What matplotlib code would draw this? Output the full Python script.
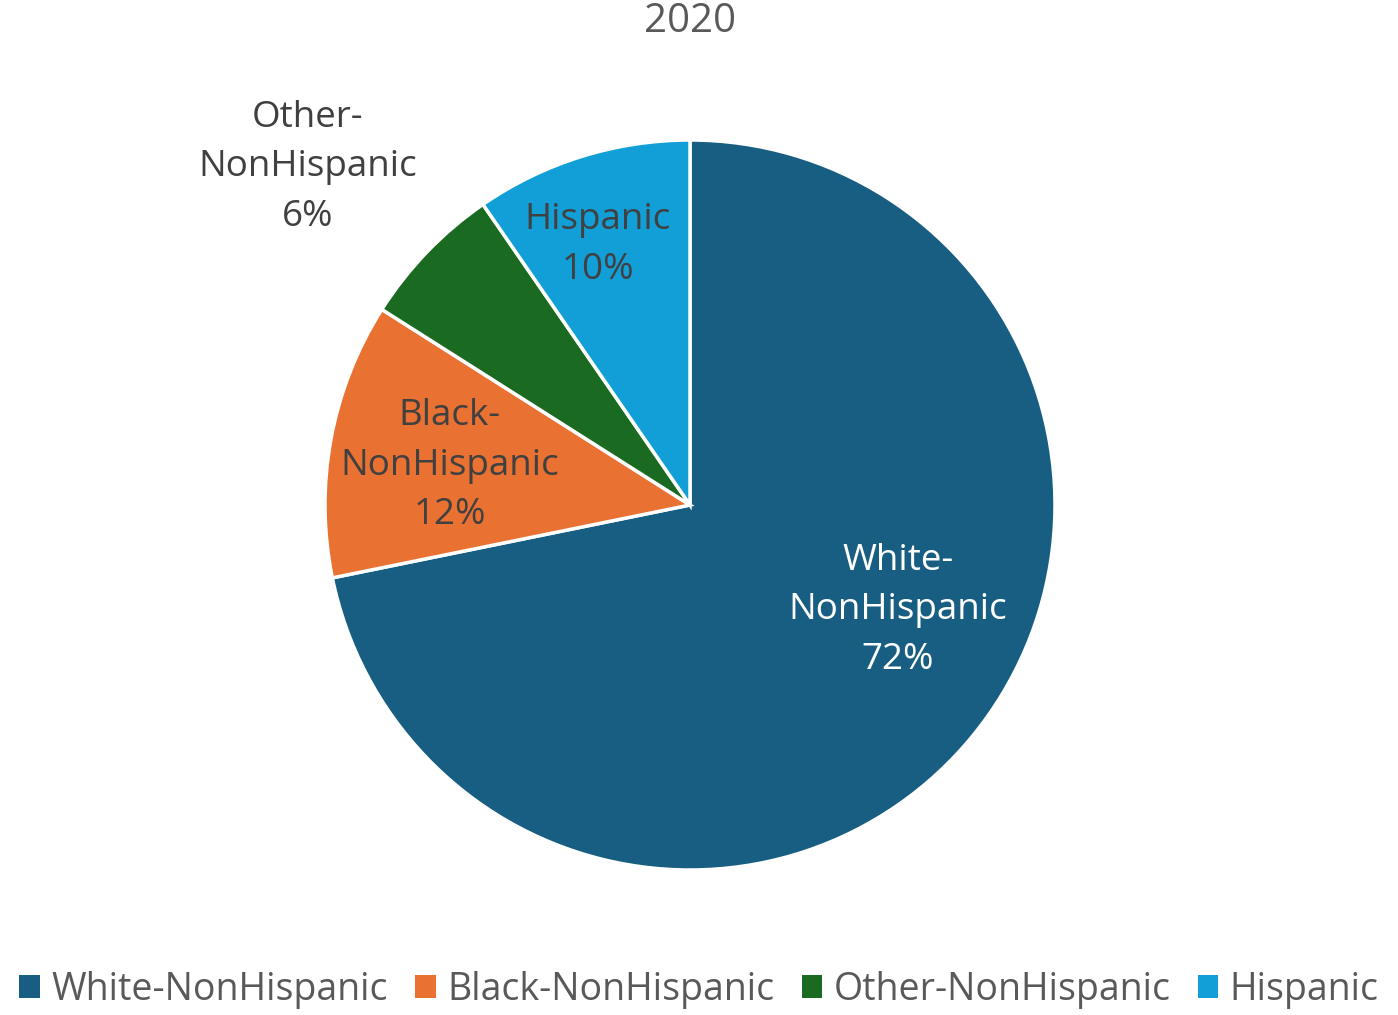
import matplotlib
matplotlib.use("Agg")
import matplotlib.pyplot as plt
from matplotlib.patches import Patch

categories = ["White-NonHispanic", "Black-NonHispanic", "Other-NonHispanic", "Hispanic"]
values = [71.8, 12.2, 6.4, 9.6]
pct_labels = ["72%", "12%", "6%", "10%"]
label_text = ["White-\nNonHispanic", "Black-\nNonHispanic", "Other-\nNonHispanic", "Hispanic"]
colors = ["#175E82", "#E97132", "#1B6A22", "#129FD8"]
title = "2020"

plt.rcParams['font.family'] = ['Open Sans', 'DejaVu Sans']

fig = plt.figure(figsize=(13.98, 10.15), dpi=100)
cx, cy, r = 690, 505, 365
W, H = 1398, 1015
ax = fig.add_axes([(cx - r) / W, (H - cy - r) / H, 2 * r / W, 2 * r / H])
wedges, _ = ax.pie(values, colors=colors, startangle=90, counterclock=False,
                   wedgeprops=dict(edgecolor="white", linewidth=2.5))
ax.set_xlim(-1, 1)
ax.set_ylim(-1, 1)
ax.set_aspect("equal")

label_pos = [(0.57, -0.288), (-0.658, 0.107), (-1.047, 0.926), (-0.252, 0.712)]
label_colors = ["white", "#404040", "#404040", "#404040"]
for txt, pct, (x, y), c in zip(label_text, pct_labels, label_pos, label_colors):
    ax.text(x, y, f"{txt}\n{pct}", ha="center", va="center", fontsize=26.5,
            color=c, linespacing=1.5, clip_on=False)

fig.text(690 / W, 1 - 22 / H, title, ha="center", va="center", fontsize=29, color="#595959")

handles = [Patch(facecolor=c, edgecolor="none") for c in colors]
fig.legend(handles, categories, loc="center", bbox_to_anchor=(0.5, 1 - 990 / H),
           ncol=4, frameon=False, fontsize=27, labelcolor="#595959",
           handlelength=0.55, handleheight=0.55, handletextpad=0.3, columnspacing=0.73,
           borderaxespad=0, borderpad=0)

fig.savefig("out.png", dpi=100)
